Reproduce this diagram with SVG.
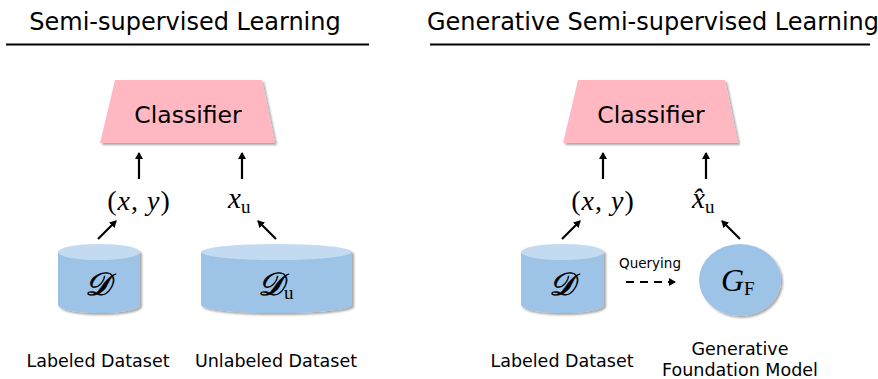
<svg xmlns="http://www.w3.org/2000/svg" width="878" height="379" viewBox="0 0 878 379">
<defs>
<filter id="sh" x="-10%" y="-10%" width="130%" height="130%">
<feGaussianBlur in="SourceAlpha" stdDeviation="1.2"/>
<feOffset dx="1.5" dy="2" result="o"/>
<feComponentTransfer><feFuncA type="linear" slope="0.35"/></feComponentTransfer>
<feMerge><feMergeNode/><feMergeNode in="SourceGraphic"/></feMerge>
</filter>
<marker id="ah" markerWidth="8" markerHeight="8" refX="6" refY="4" orient="auto" markerUnits="userSpaceOnUse">
<path d="M0,0 L7,4 L0,8 Z" fill="#000"/>
</marker>
</defs>
<style>
.title{font-family:"DejaVu Sans",Verdana,sans-serif;font-size:24px;fill:#000;text-anchor:middle}
.lab{font-family:"DejaVu Sans",Verdana,sans-serif;font-size:17.5px;fill:#000;text-anchor:middle}
.q{font-family:"DejaVu Sans",Verdana,sans-serif;font-size:13.5px;fill:#000;text-anchor:middle}
.cls{font-family:"DejaVu Sans",Verdana,sans-serif;font-size:23.5px;fill:#000;text-anchor:middle}
.math{font-family:"Liberation Serif","DejaVu Serif",serif;fill:#000}
.cal{stroke:#000;stroke-width:0.7}
.it{font-style:italic}
.up{font-style:normal}
.trap{fill:#FFB8C2}
.body{fill:#9DC3E6}
.top{fill:#C3DAF0}
.line{stroke:#000;stroke-width:2;fill:none}
.arr{stroke:#000;stroke-width:2.2;fill:none;marker-end:url(#ah)}
</style>
<rect width="878" height="379" fill="#fff"/>

<g id="titles">
<text class="title" x="185" y="30">Semi-supervised Learning</text>
<line class="line" x1="6" y1="44.5" x2="369" y2="44.5"/>
<text class="title" x="653" y="30">Generative Semi-supervised Learning</text>
<line class="line" x1="430" y1="44.5" x2="870" y2="44.5"/>
</g>

<g id="classifier-left">
<polygon class="trap" points="115,80 262,80 275,143 100,143" filter="url(#sh)"/>
<text class="cls" x="188" y="123">Classifier</text>
</g>
<g id="classifier-right">
<polygon class="trap" points="578,80 725,80 738,143 563,143" filter="url(#sh)"/>
<text class="cls" x="651" y="123">Classifier</text>
</g>

<g id="dataset-left">
<g filter="url(#sh)">
<path class="body" d="M58,252 L58,305 A41,8 0 0 0 140,305 L140,252 Z"/>
<ellipse class="top" cx="99" cy="252" rx="41" ry="8"/>
</g>
<text class="math it cal" x="98" y="295" font-size="32" text-anchor="middle">𝒟</text>
</g>

<g id="unlabeled-dataset">
<g filter="url(#sh)">
<path class="body" d="M201,252 L201,305 A75.5,8 0 0 0 352,305 L352,252 Z"/>
<ellipse class="top" cx="276.5" cy="252" rx="75.5" ry="8"/>
</g>
<text class="math" x="258" y="295" font-size="32"><tspan class="it cal">𝒟</tspan><tspan class="up" font-size="19" dy="4">u</tspan></text>
</g>

<g id="dataset-right">
<g filter="url(#sh)">
<path class="body" d="M521,252 L521,305 A41.5,8 0 0 0 604,305 L604,252 Z"/>
<ellipse class="top" cx="562.5" cy="252" rx="41.5" ry="8"/>
</g>
<text class="math it cal" x="562" y="295" font-size="32" text-anchor="middle">𝒟</text>
</g>

<g id="gen-model">
<ellipse class="body" cx="740" cy="280" rx="41" ry="36" filter="url(#sh)"/>
<text class="math" x="721" y="291" font-size="32"><tspan class="it">G</tspan><tspan class="up" font-size="19" dy="4">F</tspan></text>
</g>

<g id="math-labels">
<text class="math" x="139" y="210" font-size="28" text-anchor="middle" letter-spacing="1"><tspan class="up">(</tspan><tspan class="it">x</tspan><tspan class="up">, </tspan><tspan class="it">y</tspan><tspan class="up">)</tspan></text>
<text class="math" x="228" y="208" font-size="29"><tspan class="it">x</tspan><tspan class="up" font-size="19" dy="5">u</tspan></text>
<text class="math" x="603" y="210" font-size="28" text-anchor="middle" letter-spacing="1"><tspan class="up">(</tspan><tspan class="it">x</tspan><tspan class="up">, </tspan><tspan class="it">y</tspan><tspan class="up">)</tspan></text>
<text class="math" x="692" y="208" font-size="29"><tspan class="it">x̂</tspan><tspan class="up" font-size="19" dy="5">u</tspan></text>
</g>

<g id="connectors">
<line class="arr" x1="139" y1="179" x2="139" y2="153"/>
<line class="arr" x1="242" y1="179" x2="242" y2="153"/>
<line class="arr" x1="98" y1="239" x2="116" y2="221"/>
<line class="arr" x1="276" y1="239" x2="258" y2="221"/>
<line class="arr" x1="603" y1="179" x2="603" y2="153"/>
<line class="arr" x1="706" y1="179" x2="706" y2="153"/>
<line class="arr" x1="562" y1="239" x2="580" y2="221"/>
<line class="arr" x1="740" y1="239" x2="722" y2="221"/>
<line class="arr" x1="626" y1="282" x2="675" y2="282" stroke-dasharray="8,6"/>
<text class="q" x="650" y="268">Querying</text>
</g>

<g id="bottom-labels">
<text class="lab" x="98" y="367">Labeled Dataset</text>
<text class="lab" x="276" y="367">Unlabeled Dataset</text>
<text class="lab" x="562" y="367">Labeled Dataset</text>
<text class="lab" x="740" y="355">Generative</text>
<text class="lab" x="740" y="376">Foundation Model</text>
</g>
</svg>
